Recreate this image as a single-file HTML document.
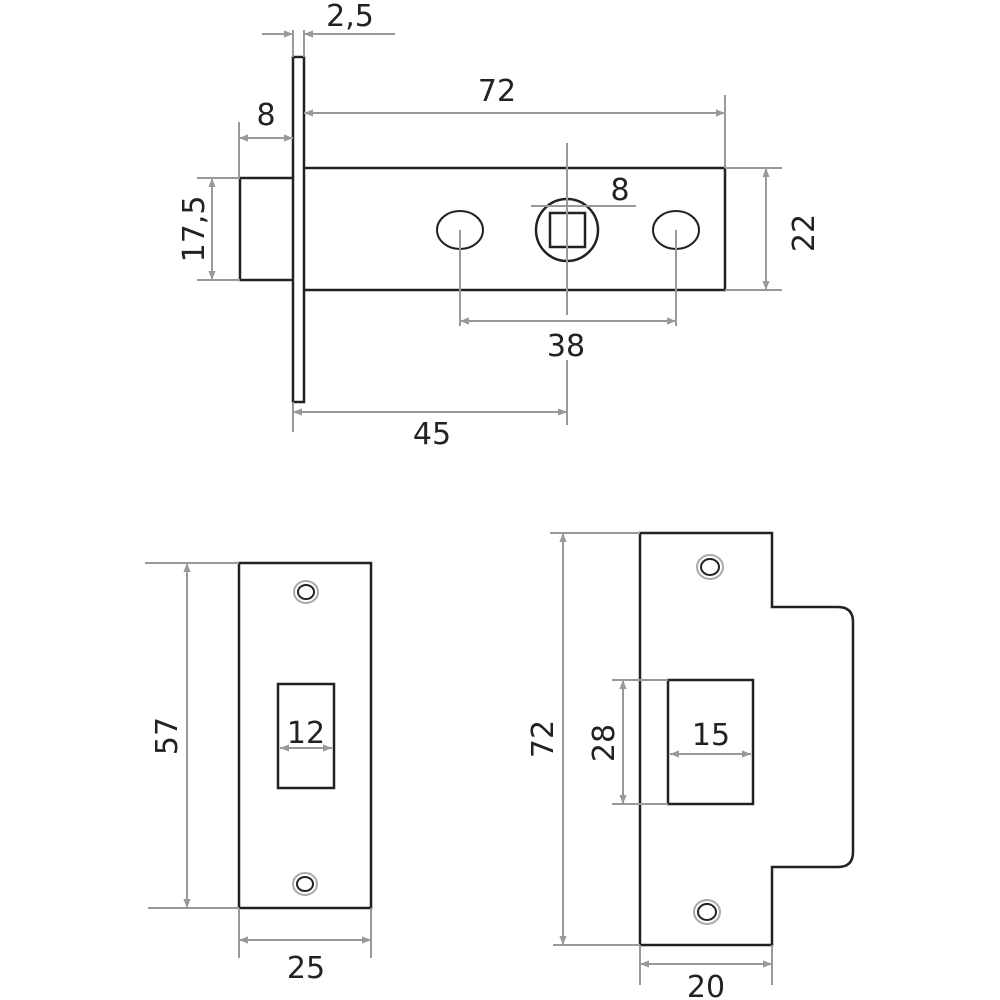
<!DOCTYPE html>
<html><head><style>
html,body{margin:0;padding:0;background:#fff;}
svg{display:block;}
text{font-family:"DejaVu Sans","Liberation Sans",sans-serif;font-size:30px;fill:#222;}
</style></head><body>
<svg width="1000" height="1000" viewBox="0 0 1000 1000" xmlns="http://www.w3.org/2000/svg">
<defs>
<marker id="a" viewBox="0 0 10 10" refX="10" refY="5" markerWidth="9" markerHeight="9" orient="auto-start-reverse" markerUnits="userSpaceOnUse"><path d="M0,1 L10,5 L0,9 Z" fill="#999"/></marker>
</defs>
<g fill="none" stroke="#222" stroke-width="2.5">
<!-- top latch -->
<rect x="293" y="57" width="11" height="345"/>
<path d="M304,168 H725 V290 H304"/>
<path d="M293,178 H240 V280 H293"/>
<ellipse cx="460" cy="230" rx="23" ry="19" stroke-width="2"/>
<ellipse cx="676" cy="230" rx="23" ry="19" stroke-width="2"/>
<circle cx="567" cy="230" r="31"/>
<rect x="550" y="213" width="35" height="34"/>
<!-- left strike -->
<rect x="239" y="563" width="132" height="345"/>
<rect x="278" y="684" width="56" height="104"/>
<!-- right strike -->
<path d="M640,533 H772 V607 H838 Q853,607 853,622 V852 Q853,867 838,867 H772 V945 H640 Z"/>
<rect x="668" y="680" width="85" height="124"/>
</g>
<g fill="none" stroke-width="2">
<ellipse cx="306" cy="592" rx="8" ry="7" stroke="#222"/>
<ellipse cx="306" cy="592" rx="12" ry="11" stroke="#aaa"/>
<ellipse cx="305" cy="884" rx="8" ry="7" stroke="#222"/>
<ellipse cx="305" cy="884" rx="12" ry="11" stroke="#aaa"/>
<ellipse cx="710" cy="567" rx="9" ry="8" stroke="#222"/>
<ellipse cx="710" cy="567" rx="13" ry="12" stroke="#aaa"/>
<ellipse cx="707" cy="912" rx="9" ry="8" stroke="#222"/>
<ellipse cx="707" cy="912" rx="13" ry="12" stroke="#aaa"/>
</g>
<!-- dimension lines -->
<g stroke="#999" stroke-width="2" fill="none">
<!-- 2,5 -->
<path d="M293,30 V57 M304,30 V57"/>
<path d="M262,34 H293" marker-end="url(#a)"/>
<path d="M395,34 H304" marker-end="url(#a)"/>
<!-- 72 top -->
<path d="M725,95 V168"/>
<path d="M304,113 H725" marker-start="url(#a)" marker-end="url(#a)"/>
<!-- 8 -->
<path d="M239,122 V178"/>
<path d="M239,138 H293" marker-start="url(#a)" marker-end="url(#a)"/>
<!-- 17,5 -->
<path d="M197,178 H240 M197,280 H240"/>
<path d="M212,178 V280" marker-start="url(#a)" marker-end="url(#a)"/>
<!-- 22 -->
<path d="M725,168 H782 M725,290 H782"/>
<path d="M766,168 V290" marker-start="url(#a)" marker-end="url(#a)"/>
<!-- center lines -->
<path d="M567,143 V315"/>
<path d="M460,230 V326 M676,230 V326"/>
<path d="M460,321 H676" marker-start="url(#a)" marker-end="url(#a)"/>
<!-- 8 spindle -->
<path d="M531,206 H636"/>
<!-- 45 -->
<path d="M293,402 V432 M567,360 V425"/>
<path d="M293,412 H567" marker-start="url(#a)" marker-end="url(#a)"/>
<!-- 57 -->
<path d="M145,563 H239 M148,908 H239"/>
<path d="M187,563 V908" marker-start="url(#a)" marker-end="url(#a)"/>
<!-- 25 -->
<path d="M239,908 V958 M371,908 V958"/>
<path d="M239,940 H371" marker-start="url(#a)" marker-end="url(#a)"/>
<!-- 12 -->
<path d="M280,748 H332" marker-start="url(#a)" marker-end="url(#a)"/>
<!-- 72 strike -->
<path d="M550,533 H640 M553,945 H640"/>
<path d="M563,533 V945" marker-start="url(#a)" marker-end="url(#a)"/>
<!-- 28 -->
<path d="M612,680 H668 M612,804 H668"/>
<path d="M623,680 V804" marker-start="url(#a)" marker-end="url(#a)"/>
<!-- 15 -->
<path d="M670,754 H751" marker-start="url(#a)" marker-end="url(#a)"/>
<!-- 20 -->
<path d="M640,945 V985 M772,945 V985"/>
<path d="M640,964 H772" marker-start="url(#a)" marker-end="url(#a)"/>
</g>
<g>
<text x="350" y="26" text-anchor="middle">2,5</text>
<text x="497" y="101" text-anchor="middle">72</text>
<text x="266" y="125" text-anchor="middle">8</text>
<text x="620" y="200" text-anchor="middle">8</text>
<text transform="translate(204,229) rotate(-90)" text-anchor="middle">17,5</text>
<text transform="translate(814,233) rotate(-90)" text-anchor="middle">22</text>
<text x="566" y="356" text-anchor="middle">38</text>
<text x="432" y="444" text-anchor="middle">45</text>
<text transform="translate(177,736) rotate(-90)" text-anchor="middle">57</text>
<text x="306" y="743" text-anchor="middle">12</text>
<text x="306" y="978" text-anchor="middle">25</text>
<text transform="translate(553,739) rotate(-90)" text-anchor="middle">72</text>
<text transform="translate(614,743) rotate(-90)" text-anchor="middle">28</text>
<text x="711" y="745" text-anchor="middle">15</text>
<text x="706" y="997" text-anchor="middle">20</text>
</g>
</svg>
</body></html>
